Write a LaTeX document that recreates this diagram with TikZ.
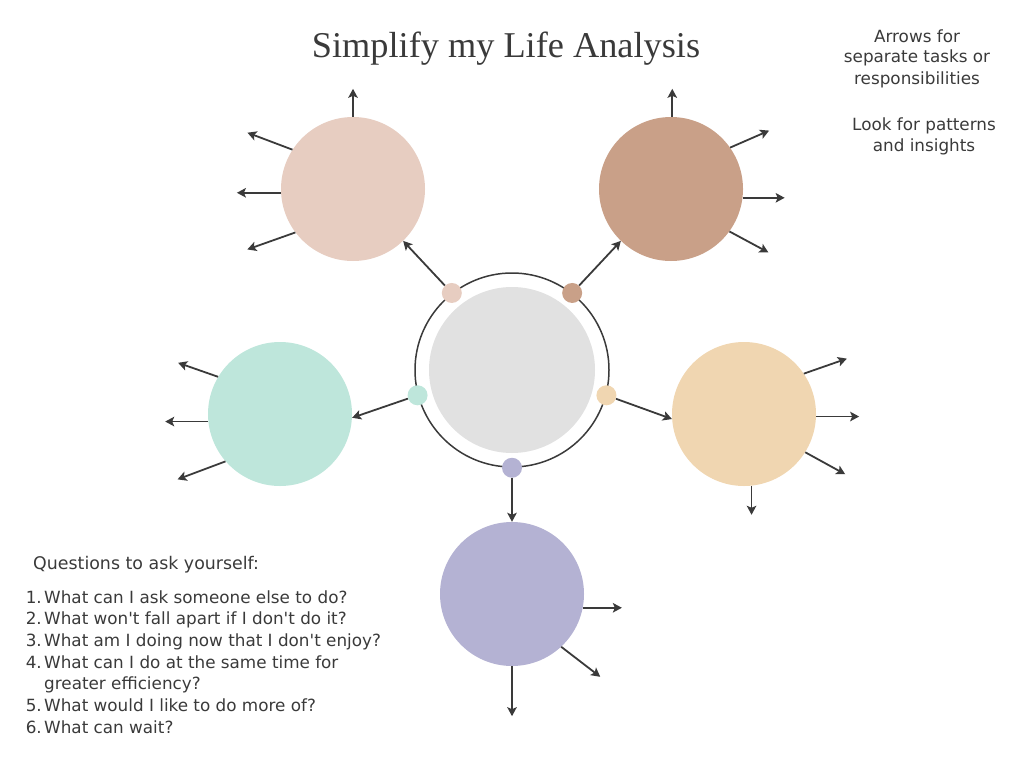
\documentclass[tikz,border=0pt]{standalone}
\usepackage{fontspec}
\setmainfont{DejaVu Sans}
\newfontfamily\titlefont{Liberation Serif}
\usetikzlibrary{arrows.meta}

\definecolor{ink}{HTML}{3A3A3A}
\definecolor{core}{HTML}{E1E1E1}
\definecolor{blush}{HTML}{E7CDC1}
\definecolor{clay}{HTML}{C9A088}
\definecolor{mint}{HTML}{BEE6DB}
\definecolor{sand}{HTML}{F0D6B1}
\definecolor{lilac}{HTML}{B4B2D3}

\tikzset{
  blob/.style={circle, inner sep=0pt, minimum size=144pt},
  dot/.style={circle, inner sep=0pt, minimum size=20pt},
  task/.style={draw=ink, line width=1.8pt, -{Stealth[length=9pt,width=9.5pt,inset=2pt]}},
  txt/.style={text=ink, inner sep=0pt, font=\fontsize{16.8}{21.5}\selectfont}
}

\begin{document}
\begin{tikzpicture}[x=1pt,y=-1pt]
\useasboundingbox (0,0) rectangle (1024,768);

\node[txt, anchor=base, font=\titlefont\fontsize{36.3}{40}\selectfont] (title) at (506,57) {Simplify my Life Analysis};

% hub in the middle
\node[circle, inner sep=0pt, minimum size=194pt, draw=ink, line width=1.5pt] (hub) at (512,370) {};
\node[circle, inner sep=0pt, minimum size=166pt, fill=core] (core) at (hub.center) {};

\node[dot, fill=blush] (dblush) at (hub.128) {};
\node[dot, fill=clay]  (dclay)  at (hub.52) {};
\node[dot, fill=mint]  (dmint)  at (hub.195) {};
\node[dot, fill=sand]  (dsand)  at (hub.345) {};
\node[dot, fill=lilac] (dlilac) at (hub.270) {};

\node[blob, fill=blush] (blush) at (353,189) {};
\node[blob, fill=clay]  (clay)  at (671,189) {};
\node[blob, fill=mint]  (mint)  at (280,414) {};
\node[blob, fill=sand]  (sand)  at (744,414) {};
\node[blob, fill=lilac] (lilac) at (512,594) {};

\draw[task] (dblush) -- (blush.-46);
\draw[task] (dclay) -- (clay.226);
\draw[task] (dmint) -- (mint.-3);
\draw[task] (dsand) -- (sand.184);
\draw[task] (dlilac) -- (lilac.90);

\foreach \a/\dx/\dy in {90/0/-28, 147/-45/-17, 183/-44/0, 217/-48/17}
  \draw[task] (blush.\a) -- ++(\dx,\dy);
\foreach \a/\dx/\dy in {89/0/-28, 35/39/-17, -7/42/0, -36/39/21}
  \draw[task] (clay.\a) -- ++(\dx,\dy);
\foreach \a/\dx/\dy in {149/-40/-14, 186/-43/0, 221/-48/18}
  \draw[task] (mint.\a) -- ++(\dx,\dy);
\foreach \a/\dx/\dy in {34.5/43/-15, -2/43/0, -32/40/22, -84/0/29}
  \draw[task] (sand.\a) -- ++(\dx,\dy);
\foreach \a/\dx/\dy in {-11/39/0, -47/39/30, -90/0/50}
  \draw[task] (lilac.\a) -- ++(\dx,\dy);

% notes
\foreach \x/\y/\t [count=\i] in {917/42/Arrows for, 917/63/separate tasks or, 917/84/responsibilities, 924/130/Look for patterns, 924/151/and insights}
  \node[txt, anchor=base] (note\i) at (\x,\y) {\t};

\node[txt, anchor=base west, font=\fontsize{17.4}{21.5}\selectfont] (ask) at (33,569) {Questions to ask yourself:};
\foreach \n/\q [count=\i from 0] in {1./What can I ask someone else to do?, 2./What won\textquotesingle t fall apart if I don\textquotesingle t do it?, 3./What am I doing now that I don\textquotesingle t enjoy?, 4./What can I do at the same time for, {}/greater efficiency?, 5./What would I like to do more of?, 6./What can wait?}
{
  \node[txt, anchor=base east] (num\i) at (42,{603+21.7*\i}) {\n};
  \node[txt, anchor=base west] (q\i) at (44,{603+21.7*\i}) {\q};
}

\end{tikzpicture}
\end{document}
